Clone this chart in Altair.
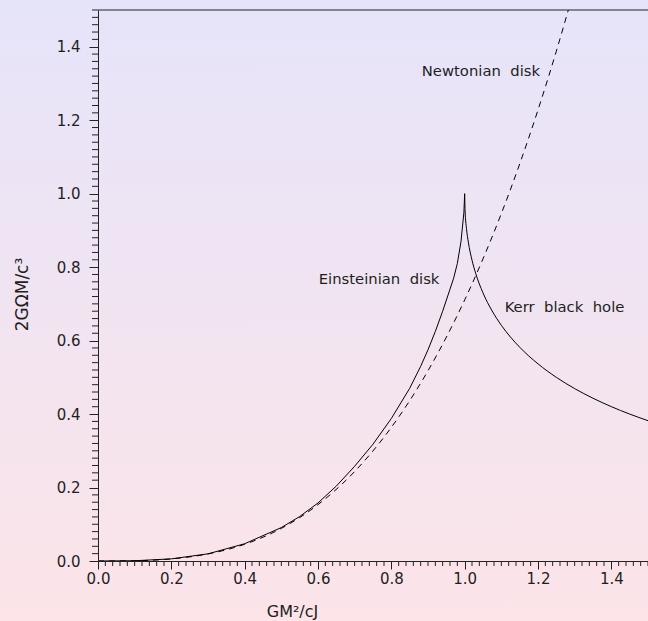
import altair as alt
import pandas as pd
import numpy as np

# Einsteinian (relativistic) disk sequence
ein_x = [0.0, 0.1, 0.2, 0.3, 0.4, 0.5, 0.55, 0.6, 0.65, 0.7, 0.75, 0.8, 0.85, 0.88,
         0.9, 0.92, 0.94, 0.96, 0.97, 0.98, 0.99, 0.995, 0.998, 1.0]
ein_y = [0.0, 0.0007, 0.0058, 0.0195, 0.047, 0.091, 0.121, 0.158, 0.204, 0.258, 0.318,
         0.388, 0.470, 0.530, 0.575, 0.625, 0.680, 0.740, 0.770, 0.810, 0.870, 0.920, 0.950, 1.0]

# Newtonian disk sequence (dashed)
new_x = [0.0, 0.1, 0.2, 0.3, 0.4, 0.5, 0.6, 0.7, 0.8, 0.9, 1.0, 1.05, 1.1, 1.15, 1.2, 1.25, 1.29]
new_y = [0.0, 0.0007, 0.0057, 0.0192, 0.0455, 0.0888, 0.1535, 0.2437, 0.3638, 0.518, 0.7106,
         0.8226, 0.9458, 1.0808, 1.2279, 1.3879, 1.5254]

# Kerr black hole sequence
kerr_x = [1.0, 1.001, 1.005, 1.01, 1.02, 1.03, 1.05, 1.075, 1.1, 1.15, 1.2, 1.25, 1.3,
          1.35, 1.4, 1.45, 1.5]
kerr_y = [1.0, 0.956, 0.9048, 0.8682, 0.819, 0.7832, 0.7298, 0.6805, 0.6417, 0.5821,
          0.5367, 0.5, 0.4693, 0.4431, 0.4202, 0.40, 0.382]

NB = "\u00a0\u00a0"
label_text = ["Newtonian" + NB + "disk", "Einsteinian" + NB + "disk", "Kerr" + NB + "black" + NB + "hole"]
label_x = [0.883, 0.602, 1.109]
label_y = [1.330, 0.766, 0.689]

major_vals = [0.0, 0.2, 0.4, 0.6, 0.8, 1.0, 1.2, 1.4]
minor_vals = [round(i * 0.02, 2) for i in range(76) if i % 10 != 0]

ein = pd.DataFrame({"x": ein_x, "y": ein_y})
new = pd.DataFrame({"x": new_x, "y": new_y})
kerr = pd.DataFrame({"x": kerr_x, "y": kerr_y})
labels = pd.DataFrame({"t": label_text, "x": label_x, "y": label_y})
minor = pd.DataFrame({"v": minor_vals})

FONT = "DejaVu Sans"
TXT = "#1e1e1e"
AX = "#222222"

xscale = alt.Scale(domain=[0, 1.5], nice=False, zero=False)
yscale = alt.Scale(domain=[0, 1.5], nice=False, zero=False)

xaxis = alt.Axis(
    values=major_vals, format=".1f", grid=False, domainColor=AX, tickColor=AX,
    tickSize=8, labelOverlap=False, labelFlush=False, labelFont=FONT, labelFontSize=15,
    labelColor=TXT, labelPadding=2, title="GM²/cJ", titleFont=FONT,
    titleFontSize=16, titleFontWeight="normal", titleColor=TXT,
    titleX=194, titleY=50, titleAlign="center", titleBaseline="middle",
    zindex=1,
)
yaxis = alt.Axis(
    values=major_vals, format=".1f", grid=False, domainColor=AX, tickColor=AX,
    tickSize=9, labelOverlap=False, labelFlush=False, labelFont=FONT, labelFontSize=15,
    labelColor=TXT, labelPadding=9, title="2GΩM/c³", titleFont=FONT,
    titleFontSize=17, titleFontWeight="normal", titleColor=TXT,
    titleX=-76, titleY=284, titleAlign="center", titleBaseline="middle",
    titleAngle=270, zindex=1,
)

grad = alt.LinearGradient(
    gradient="linear",
    stops=[alt.GradientStop(color="#e6e4fa", offset=0),
           alt.GradientStop(color="#fce4e8", offset=1)],
    x1=0, x2=0, y1=0, y2=1,
)

bg = alt.Chart(pd.DataFrame({"a": [0]})).mark_rect(fill=grad).encode(
    x=alt.value(-98), x2=alt.value(550), y=alt.value(-10), y2=alt.value(611)
)

top_line = alt.Chart(pd.DataFrame({"a": [0]})).mark_rule(color=AX, strokeWidth=1).encode(
    x=alt.value(0), x2=alt.value(550), y=alt.value(0)
)

minor_y = alt.Chart(minor).mark_rule(color=AX, strokeWidth=1).encode(
    y=alt.Y("v:Q", scale=yscale), x=alt.value(-6), x2=alt.value(0)
)
minor_x = alt.Chart(minor).mark_rule(color=AX, strokeWidth=1).encode(
    x=alt.X("v:Q", scale=xscale), y=alt.value(551), y2=alt.value(556)
)

ein_line = alt.Chart(ein).mark_line(color="black", strokeWidth=1, clip=True).encode(
    x=alt.X("x:Q", scale=xscale, axis=xaxis),
    y=alt.Y("y:Q", scale=yscale, axis=yaxis),
    order="x:Q",
)
new_line = alt.Chart(new).mark_line(color="black", strokeWidth=1, strokeDash=[6, 5],
                                    clip=True, interpolate="monotone").encode(
    x="x:Q", y="y:Q", order="x:Q",
)
kerr_line = alt.Chart(kerr).mark_line(color="black", strokeWidth=1, clip=True,
                                      interpolate="monotone").encode(
    x="x:Q", y="y:Q", order="x:Q",
)
text = alt.Chart(labels).mark_text(align="left", baseline="middle", font=FONT,
                                   fontSize=14.8, color=TXT).encode(
    x="x:Q", y="y:Q", text="t:N",
)

chart = alt.layer(bg, ein_line, new_line, kerr_line, text, minor_x, minor_y, top_line).properties(
    width=550, height=551,
    autosize=alt.AutoSizeParams(type="none"),
    padding={"left": 98, "top": 10, "right": 0, "bottom": 60},
    background="#f0e4f2",
).configure_view(stroke=None)

chart.save("out.html", embed_options={"renderer": "svg", "actions": False})
